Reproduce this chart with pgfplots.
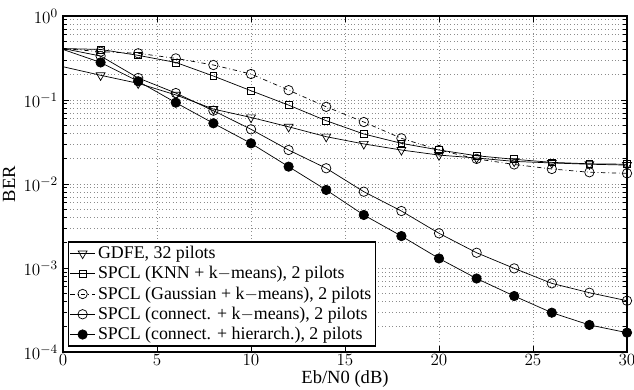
\documentclass[border=0pt]{standalone}
\usepackage{fontspec}
\setmainfont{Liberation Serif}
\usepackage{pgfplots}
\pgfplotsset{compat=1.18}
\begin{document}
\begin{tikzpicture}
\begin{axis}[
  scale only axis,
  width=394.8pt, height=235.2pt,
  ymode=log,
  xmin=0, xmax=30, ymin=1e-4, ymax=1,
  xtick={0,5,...,30},
  ytick={1e-4,1e-3,1e-2,1e-1,1},
  tick align=inside,
  ticklabel style={font=\fontsize{13}{15}\selectfont},
  label style={font=\fontsize{13}{15}\selectfont},
  xticklabel style={yshift=1.5pt},
  xlabel={Eb/N0 (dB)},
  ylabel={BER},
  xlabel style={yshift=3.5pt},
  ylabel style={yshift=-1pt},
  grid=both,
  major grid style={black!45, dotted, line width=0.5pt},
  minor grid style={black!45, dotted, line width=0.5pt},
  axis line style={line width=0.8pt},
  every tick/.style={black, line width=0.5pt},
  legend style={at={(0.009,0.016)}, anchor=south west, font=\fontsize{12.5}{14}\selectfont,
    draw=black, line width=0.8pt, inner sep=1pt, row sep=0pt, cells={anchor=west}},
  legend cell align=left,
  legend image code/.code={\draw[#1, mark indices={2}] plot coordinates {(0cm,0cm) (0.3cm,0cm) (0.6cm,0cm)};},
  mark indices={2,...,16},
]
\addplot[black, line width=0.5pt, mark=triangle, mark size=3.6pt, mark options={solid, rotate=180, fill=white}]
coordinates {(0,0.249)(2,0.197)(4,0.158)(6,0.115)(8,0.078)(10,0.062)(12,0.048)(14,0.0366)(16,0.030)(18,0.0254)(20,0.0221)(22,0.0204)(24,0.0186)(26,0.0178)(28,0.0172)(30,0.0168)};
\addlegendentry{GDFE, 32 pilots}
\addplot[black, line width=0.5pt, mark=square, mark size=2.4pt, mark options={solid, fill=white}]
coordinates {(0,0.41)(2,0.40)(4,0.34)(6,0.28)(8,0.193)(10,0.129)(12,0.087)(14,0.0567)(16,0.0394)(18,0.0305)(20,0.0254)(22,0.0217)(24,0.0197)(26,0.0181)(28,0.0174)(30,0.0172)};
\addlegendentry{SPCL (KNN + k$-$means), 2 pilots}
\addplot[black, line width=0.5pt, dash dot, mark=o, mark size=3.3pt, mark options={solid, fill=white}]
coordinates {(0,0.41)(2,0.376)(4,0.36)(6,0.313)(8,0.261)(10,0.204)(12,0.131)(14,0.083)(16,0.0547)(18,0.035)(20,0.0254)(22,0.0199)(24,0.0171)(26,0.0151)(28,0.0138)(30,0.0134)};
\addlegendentry{SPCL (Gaussian + k$-$means), 2 pilots}
\addplot[black, line width=0.5pt, mark=o, mark size=3.3pt, mark options={solid, fill=white}]
coordinates {(0,0.41)(2,0.334)(4,0.183)(6,0.121)(8,0.0746)(10,0.0448)(12,0.0254)(14,0.0154)(16,0.0081)(18,0.00477)(20,0.00259)(22,0.00152)(24,0.00099)(26,0.000657)(28,0.000508)(30,0.000408)};
\addlegendentry{SPCL (connect. + k$-$means), 2 pilots}
\addplot[black, line width=0.5pt, mark=*, mark size=3.3pt, mark options={solid, fill=black}]
coordinates {(0,0.40)(2,0.28)(4,0.167)(6,0.093)(8,0.0528)(10,0.0305)(12,0.0161)(14,0.0085)(16,0.00428)(18,0.0024)(20,0.0013)(22,0.00075)(24,0.000464)(26,0.000294)(28,0.00021)(30,0.00017)};
\addlegendentry{SPCL (connect. + hierarch.), 2 pilots}
\end{axis}
\pgfresetboundingbox
\path (current axis.south west) ++(-44.1pt,-25.9pt) coordinate (bl);
\path (current axis.north east) ++(4.9pt,11.2pt) coordinate (tr);
\useasboundingbox (bl) rectangle (tr);
\end{tikzpicture}
\end{document}
